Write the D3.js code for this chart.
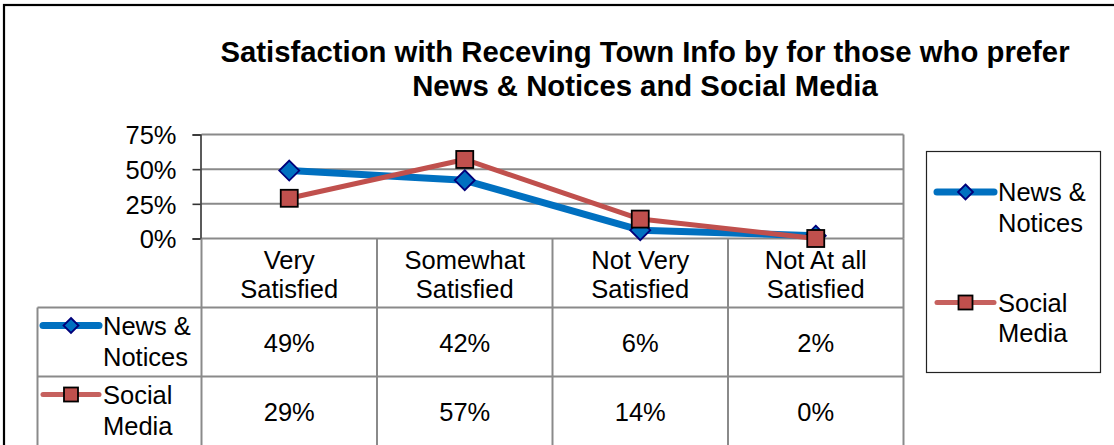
<!DOCTYPE html>
<html>
<head>
<meta charset="utf-8">
<script src="https://cdn.jsdelivr.net/npm/d3@7"></script>
<style>
  html, body { margin: 0; padding: 0; background: #fff; }
  svg { display: block; }
  text { font-family: "Liberation Sans", Arial, sans-serif; fill: #000; }
</style>
</head>
<body>
<svg id="chart" width="1114" height="445"></svg>
<script>
// Chart data
const titleLines = ["Satisfaction with Receving Town Info by for those who prefer",
                    "News & Notices and Social Media"];
const categories = ["Very Satisfied", "Somewhat Satisfied", "Not Very Satisfied", "Not At all Satisfied"];
const categoryLines = [["Very", "Satisfied"], ["Somewhat", "Satisfied"], ["Not Very", "Satisfied"], ["Not At all", "Satisfied"]];
const seriesNames = [["News &", "Notices"], ["Social", "Media"]];
const newsNotices = [0.49, 0.42, 0.06, 0.02];
const socialMedia = [0.29, 0.57, 0.14, 0.00];
const yTicks = [0, 0.25, 0.5, 0.75];

const series = [
  { name: seriesNames[0], values: newsNotices, color: "#0070C0", width: 7, marker: "diamond", markerStroke: "#00007A" },
  { name: seriesNames[1], values: socialMedia, color: "#C0504D", width: 5, marker: "square", markerStroke: "#000" }
];

const svg = d3.select("#chart");
const W = 1114, H = 445;
const gridColor = "#8a8a8a";
const fontSize = 25.5;

// Outer chart frame
svg.append("rect").attr("x", 4).attr("y", 5).attr("width", W + 20).attr("height", H + 20)
  .attr("fill", "#fff").attr("stroke", "#000").attr("stroke-width", 2.2);

// Title
svg.append("g").selectAll("text").data(titleLines).join("text")
  .attr("x", 645).attr("y", (d, i) => 62 + i * 34)
  .attr("text-anchor", "middle")
  .attr("font-weight", "bold").attr("font-size", 29.3)
  .text(d => d);

// Plot geometry
const plot = { left: 201.5, right: 903.5, top: 134.5, bottom: 238.5 };
const x = d3.scaleBand().domain(categories).range([plot.left, plot.right]);
const y = d3.scaleLinear().domain([0, 0.75]).range([plot.bottom, plot.top]);

// Gridlines
svg.append("g").selectAll("line").data(yTicks).join("line")
  .attr("x1", plot.left).attr("x2", plot.right)
  .attr("y1", d => y(d)).attr("y2", d => y(d))
  .attr("stroke", gridColor).attr("stroke-width", 2);
svg.append("line").attr("x1", plot.right).attr("x2", plot.right)
  .attr("y1", plot.top).attr("y2", plot.bottom)
  .attr("stroke", gridColor).attr("stroke-width", 2);

// Y axis
const yAxis = svg.append("g").attr("transform", `translate(${plot.left - 1},0)`)
  .call(d3.axisLeft(y).tickValues(yTicks).tickFormat(d3.format(".0%")).tickSize(8).tickPadding(16));
yAxis.select(".domain").attr("stroke", "#333").attr("stroke-width", 1.6);
yAxis.selectAll(".tick line").attr("stroke", "#333").attr("stroke-width", 1.6);
yAxis.selectAll(".tick text")
  .attr("font-size", fontSize).attr("font-family", "Liberation Sans, Arial, sans-serif")
  .attr("fill", "#000").attr("dy", "0.36em");

// Data table
const rowTops = [plot.bottom, 307.5, 376.5, 445.5];
const tableLeft = 37.5;
const tbl = svg.append("g").attr("stroke", gridColor).attr("stroke-width", 2);
// column boundaries
const colEdges = categories.map(c => x(c)).concat([plot.right]);
tbl.selectAll("line.col").data(colEdges).join("line").attr("class", "col")
  .attr("x1", d => d).attr("x2", d => d)
  .attr("y1", plot.bottom).attr("y2", H + 5);
// row boundaries
tbl.selectAll("line.row").data(rowTops.slice(1, 3)).join("line").attr("class", "row")
  .attr("x1", tableLeft).attr("x2", plot.right)
  .attr("y1", d => d).attr("y2", d => d);
tbl.append("line").attr("x1", tableLeft).attr("x2", tableLeft)
  .attr("y1", rowTops[1]).attr("y2", H + 5);

// Category labels in the header row
const catG = svg.append("g");
categories.forEach((c, i) => {
  catG.append("g").selectAll("text").data(categoryLines[i]).join("text")
    .attr("x", x(c) + x.bandwidth() / 2)
    .attr("y", (d, j) => 269 + j * 29)
    .attr("text-anchor", "middle").attr("font-size", fontSize)
    .text(d => d);
});

// Marker drawing
function drawMarker(g, s, cx, cy) {
  if (s.marker === "diamond") {
    const r = 10;
    g.append("path")
      .attr("d", `M${cx},${cy - r}L${cx + r},${cy}L${cx},${cy + r}L${cx - r},${cy}Z`)
      .attr("fill", s.color).attr("stroke", s.markerStroke).attr("stroke-width", 1.8);
  } else {
    const h = 8.5;
    g.append("rect").attr("x", cx - h).attr("y", cy - h).attr("width", 2 * h).attr("height", 2 * h)
      .attr("fill", s.color).attr("stroke", s.markerStroke).attr("stroke-width", 1.8);
  }
}

function drawKey(g, s, x0, x1, cy) {
  g.append("line").attr("x1", x0).attr("x2", x1).attr("y1", cy).attr("y2", cy)
    .attr("stroke", s.color).attr("stroke-width", s.width).attr("stroke-linecap", "round")
    .attr("opacity", s.marker === "square" ? 0.9 : 1);
  const mid = (x0 + x1) / 2;
  if (s.marker === "diamond") {
    const r = 7.5;
    g.append("path")
      .attr("d", `M${mid},${cy - r}L${mid + r},${cy}L${mid},${cy + r}L${mid - r},${cy}Z`)
      .attr("fill", s.color).attr("stroke", s.markerStroke).attr("stroke-width", 1.8);
  } else {
    const h = 7;
    g.append("rect").attr("x", mid - h).attr("y", cy - h).attr("width", 2 * h).attr("height", 2 * h)
      .attr("fill", s.color).attr("stroke", s.markerStroke).attr("stroke-width", 1.8);
  }
}

// Series lines and markers
const line = d3.line().x((d, i) => x(categories[i]) + x.bandwidth() / 2).y(d => y(d));
series.forEach(s => {
  const g = svg.append("g");
  g.append("path").datum(s.values).attr("d", line)
    .attr("fill", "none").attr("stroke", s.color).attr("stroke-width", s.width)
    .attr("stroke-linejoin", "round");
  s.values.forEach((v, i) => drawMarker(g, s, x(categories[i]) + x.bandwidth() / 2, y(v)));
});

// Table rows: key, series name, values
const fmt = d3.format(".0%");
series.forEach((s, k) => {
  const top = rowTops[k + 1];
  const g = svg.append("g");
  drawKey(g, s, 43, 99, top + 18);
  g.selectAll("text.name").data(s.name).join("text").attr("class", "name")
    .attr("x", 103).attr("y", (d, j) => top + 27 + j * 31)
    .attr("font-size", fontSize).text(d => d);
  g.selectAll("text.val").data(s.values).join("text").attr("class", "val")
    .attr("x", (d, i) => x(categories[i]) + x.bandwidth() / 2)
    .attr("y", top + 44.5)
    .attr("text-anchor", "middle").attr("font-size", fontSize)
    .text(d => fmt(d));
});

// Legend
const leg = svg.append("g");
leg.append("rect").attr("x", 926.5).attr("y", 151.5).attr("width", 174).attr("height", 221)
  .attr("fill", "#fff").attr("stroke", "#222").attr("stroke-width", 1.2);
const legendRows = [192, 302.5];
series.forEach((s, k) => {
  const cy = legendRows[k];
  drawKey(leg, s, 937, 994, cy);
  leg.selectAll(`text.l${k}`).data(s.name).join("text").attr("class", `l${k}`)
    .attr("x", 998).attr("y", (d, j) => cy + 9 + j * 30.5)
    .attr("font-size", fontSize).text(d => d);
});
</script>
</body>
</html>
